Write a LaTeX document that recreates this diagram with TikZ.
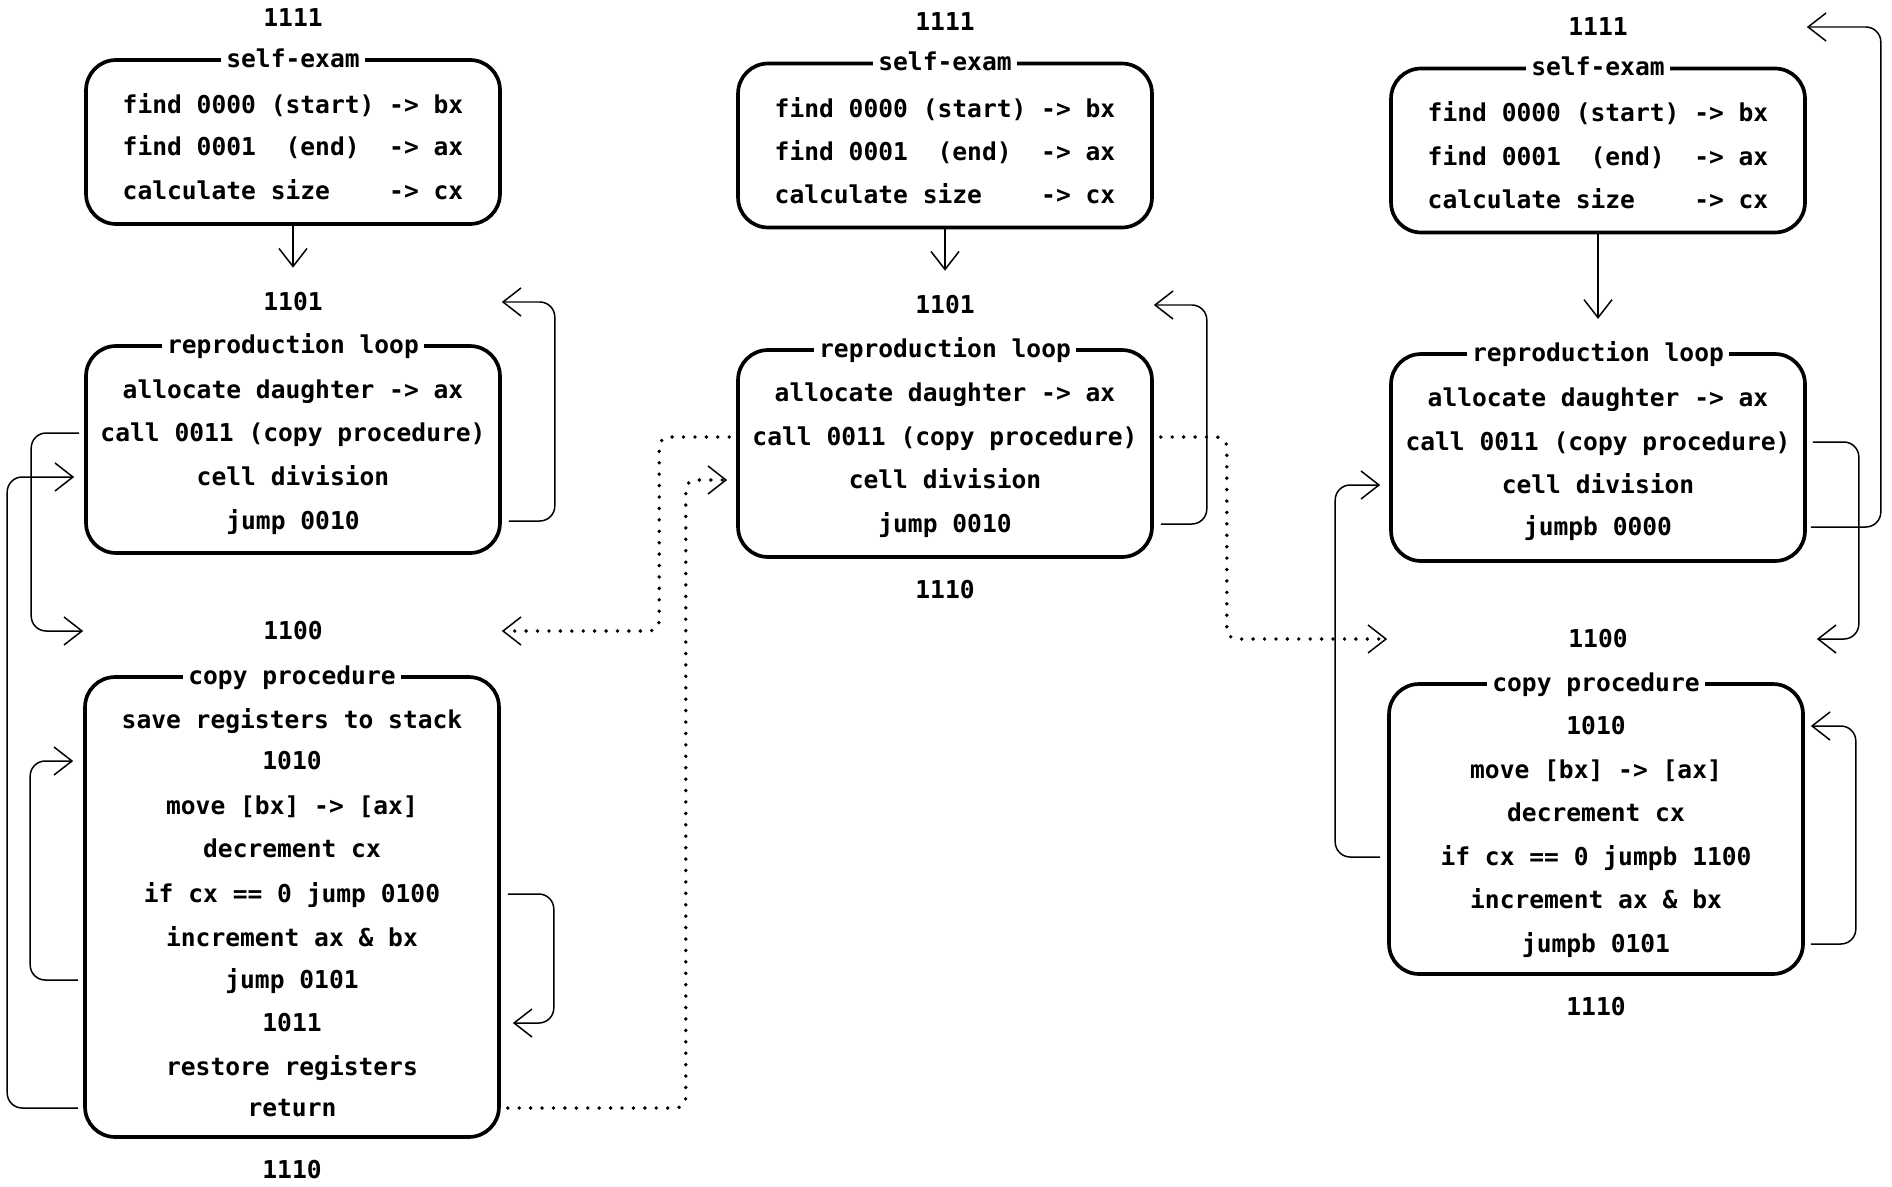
\documentclass[tikz,border=0pt]{standalone}
\usepackage{fontspec}
\setmonofont{DejaVu Sans Mono}
\usetikzlibrary{arrows.meta}

\begin{document}
\begin{tikzpicture}[x=0.02cm, y=-0.02cm,
    block/.style={draw, line width=2.1pt, rounded corners=0.6cm, minimum width=8.28cm},
    code/.style={font=\ttfamily\bfseries\fontsize{14}{17}\selectfont, inner sep=0pt, text height=10.2pt, text depth=0pt},
    btitle/.style={code, fill=white, inner xsep=3pt},
    link/.style={draw, line width=0.85pt, rounded corners=0.3cm, -{Straight Barb[length=0.36cm, width=0.56cm]}},
    calllink/.style={draw, line width=2.2pt, line cap=round, dash pattern=on 0pt off 6.5pt, rounded corners=0.2cm,
      -{Straight Barb[length=0.36cm, width=0.56cm, line width=0.85pt]}}]
  \useasboundingbox (0,0) rectangle (1892,1186);

  % left cell
  \node[code] (l1111) at (293,18) {1111};
  \node[block, minimum height=3.28cm] (lself) at (293,142) {};
  \node[btitle] (lselft) at (lself.north) {self-exam};
  \node[code] (lself1) at (293,105) {find 0000 (start) -> bx};
  \node[code] (lself2) at (293,147) {find 0001\ \ (end)\ \ -> ax};
  \node[code] (lself3) at (293,191) {calculate size\ \ \ \ -> cx};
  \node[code] (l1101) at (293,302) {1101};
  \node[block, minimum height=4.14cm] (lrep) at (293,449.5) {};
  \node[btitle] (lrept) at (lrep.north) {reproduction loop};
  \node[code] (lrep1) at (293,390) {allocate daughter -> ax};
  \node[code] (lrep2) at (293,433) {call 0011 (copy procedure)};
  \node[code] (lrep3) at (293,477) {cell division};
  \node[code] (lrep4) at (293,521) {jump 0010};
  \node[code] (l1100) at (293,631) {1100};
  \node[block, minimum height=9.2cm] (lcopy) at (292,907) {};
  \node[btitle] (lcopyt) at (lcopy.north) {copy procedure};
  \node[code] (lcopy1) at (292,720) {save registers to stack};
  \node[code] (lcopy2) at (292,761) {1010};
  \node[code] (lcopy3) at (292,806) {move [bx] -> [ax]};
  \node[code] (lcopy4) at (292,849) {decrement cx};
  \node[code] (lcopy5) at (292,894) {if cx == 0 jump 0100};
  \node[code] (lcopy6) at (292,938) {increment ax \& bx};
  \node[code] (lcopy7) at (292,980) {jump 0101};
  \node[code] (lcopy8) at (292,1023) {1011};
  \node[code] (lcopy9) at (292,1067) {restore registers};
  \node[code] (lcopy10) at (292,1108) {return};
  \node[code] (l1110) at (292,1170) {1110};

  % middle cell
  \node[code] (m1111) at (945,22) {1111};
  \node[block, minimum height=3.28cm] (mself) at (945,145.5) {};
  \node[btitle] (mselft) at (mself.north) {self-exam};
  \node[code] (mself1) at (945,109) {find 0000 (start) -> bx};
  \node[code] (mself2) at (945,152) {find 0001\ \ (end)\ \ -> ax};
  \node[code] (mself3) at (945,195) {calculate size\ \ \ \ -> cx};
  \node[code] (m1101) at (945,305) {1101};
  \node[block, minimum height=4.14cm] (mrep) at (945,453.5) {};
  \node[btitle] (mrept) at (mrep.north) {reproduction loop};
  \node[code] (mrep1) at (945,393) {allocate daughter -> ax};
  \node[code] (mrep2) at (945,437) {call 0011 (copy procedure)};
  \node[code] (mrep3) at (945,480) {cell division};
  \node[code] (mrep4) at (945,524) {jump 0010};
  \node[code] (m1110) at (945,590) {1110};

  % right cell
  \node[code] (r1111) at (1598,27) {1111};
  \node[block, minimum height=3.28cm] (rself) at (1598,150.5) {};
  \node[btitle] (rselft) at (rself.north) {self-exam};
  \node[code] (rself1) at (1598,113) {find 0000 (start) -> bx};
  \node[code] (rself2) at (1598,157) {find 0001\ \ (end)\ \ -> ax};
  \node[code] (rself3) at (1598,200) {calculate size\ \ \ \ -> cx};
  \node[block, minimum height=4.14cm] (rrep) at (1598,457.5) {};
  \node[btitle] (rrept) at (rrep.north) {reproduction loop};
  \node[code] (rrep1) at (1598,398) {allocate daughter -> ax};
  \node[code] (rrep2) at (1598,442) {call 0011 (copy procedure)};
  \node[code] (rrep3) at (1598,485) {cell division};
  \node[code] (rrep4) at (1598,527) {jumpb 0000};
  \node[code] (r1100) at (1598,639) {1100};
  \node[block, minimum height=5.8cm] (rcopy) at (1596,829) {};
  \node[btitle] (rcopyt) at (rcopy.north) {copy procedure};
  \node[code] (rcopy1) at (1596,726) {1010};
  \node[code] (rcopy2) at (1596,770) {move [bx] -> [ax]};
  \node[code] (rcopy3) at (1596,813) {decrement cx};
  \node[code] (rcopy4) at (1596,857) {if cx == 0 jumpb 1100};
  \node[code] (rcopy5) at (1596,900) {increment ax \& bx};
  \node[code] (rcopy6) at (1596,944) {jumpb 0101};
  \node[code] (r1110) at (1596,1007) {1110};

  % flow inside each cell
  \draw[link] (lself.south) -- ([yshift=0.5cm]l1101.north);
  \draw[link] (mself.south) -- ([yshift=0.5cm]m1101.north);
  \draw[link] (rself.south) -- ([yshift=0.48cm]rrept.north);
  \draw[link] ([xshift=-0.1cm]lrep.west |- lrep2) -- ++(-48,0) |- (lcopy.west |- l1100);
  \draw[link] ([xshift=-0.1cm]lcopy.west |- lcopy10) -- ++(-71,0) |- ([xshift=-0.2cm]lrep.west |- lrep3);
  \draw[link] ([xshift=-0.1cm]lcopy.west |- lcopy7) -- ++(-48,0) |- ([xshift=-0.2cm]lcopy.west |- lcopy2);
  \draw[link] ([xshift=0.14cm]lrep.east |- lrep4) -- ++(46,0) |- (lrep.east |- l1101);
  \draw[link] ([xshift=0.14cm]lcopy.east |- lcopy5) -- ++(46,0) |- ([xshift=0.24cm]lcopy.east |- lcopy8);
  \draw[link] ([xshift=0.14cm]mrep.east |- mrep4) -- ++(46,0) |- (mrep.east |- m1101);
  \draw[link] ([xshift=0.08cm]rrep.east |- rrep4) -- ++(70,0) |- (rself.east |- r1111);
  \draw[link] ([xshift=0.12cm]rrep.east |- rrep2) -- ++(46,0) |- ([xshift=0.24cm]rcopy.east |- r1100);
  \draw[link] ([xshift=-0.14cm]rcopy.west |- rcopy4) -- ++(-45,0) |- ([xshift=-0.18cm]rrep.west |- rrep3);
  \draw[link] ([xshift=0.12cm]rcopy.east |- rcopy6) -- ++(45,0) |- ([xshift=0.12cm]rcopy.east |- rcopy1);

  % calls between cells
  \draw[calllink] ([xshift=0.14cm]lcopy.east |- lcopy10) -- ++(178,0) |- ([xshift=-0.18cm]mrep.west |- mrep3);
  \draw[calllink] ([xshift=-0.14cm]mrep.west |- mrep2) -- ++(-70,0) |- (lrep.east |- l1100);
  \draw[calllink] ([xshift=0.14cm]mrep.east |- mrep2) -- ++(66,0) |- (rcopy.west |- r1100);
\end{tikzpicture}
\end{document}
